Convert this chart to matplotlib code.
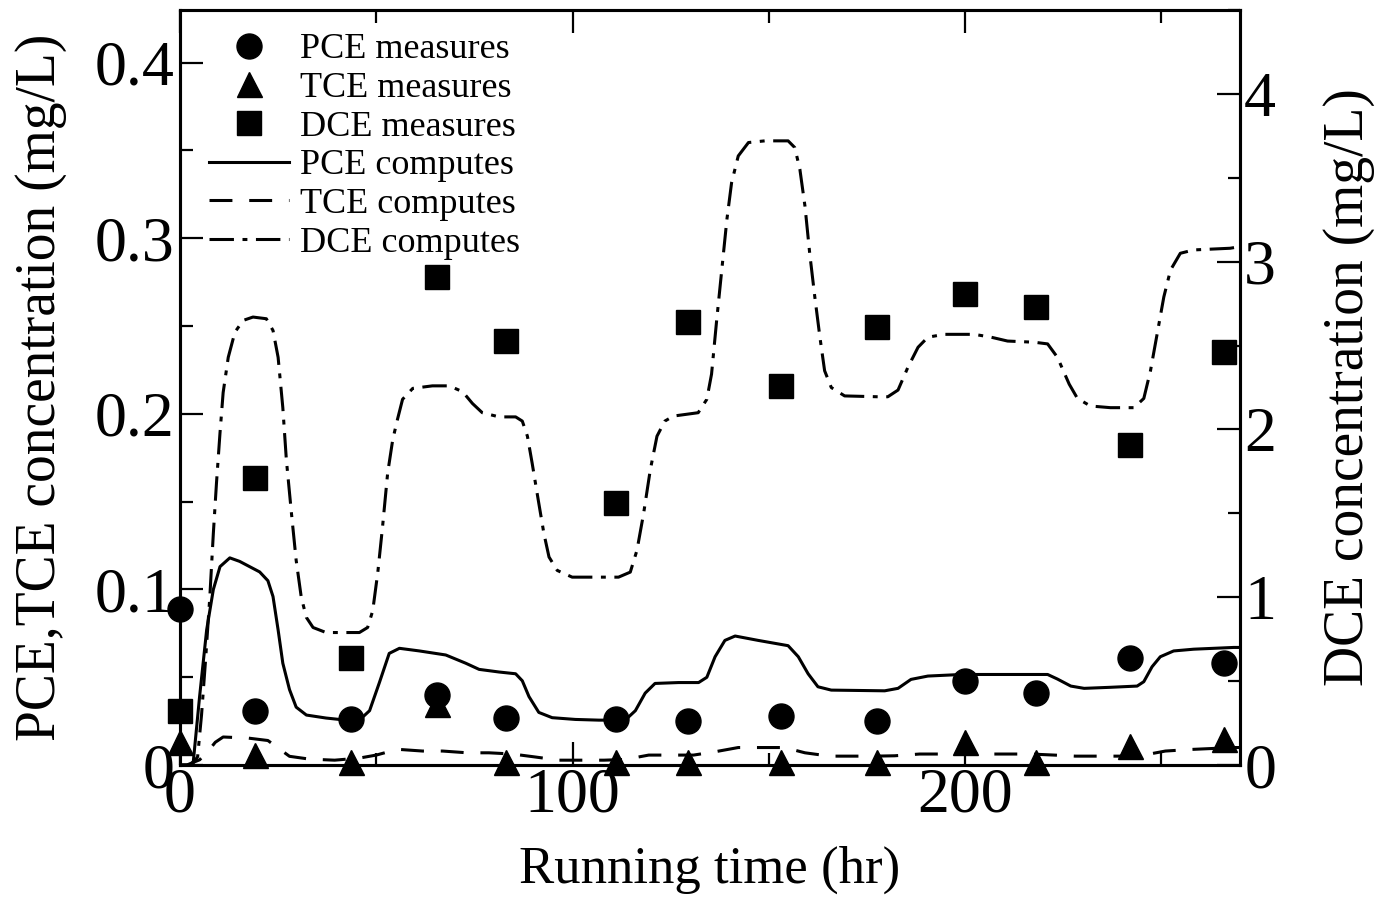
import matplotlib
matplotlib.use("Agg")
import matplotlib.pyplot as plt
from matplotlib.ticker import MultipleLocator
from matplotlib.lines import Line2D

plt.rcParams['font.family'] = ['Liberation Serif', 'DejaVu Serif']

# measured points (hr, mg/L)
t_meas = [0, 19, 43.5, 65.5, 83, 111, 129.5, 153, 177.5, 200, 218, 242, 266]
pce_meas = [0.089, 0.031, 0.026, 0.040, 0.027, 0.026, 0.025, 0.028, 0.025, 0.048, 0.041, 0.061, 0.058]
tce_meas = [0.013, 0.006, 0.002, 0.035, 0.002, 0.002, 0.002, 0.002, 0.002, 0.013, 0.002, 0.011, 0.015]
dce_meas = [0.32, 1.71, 0.64, 2.91, 2.53, 1.56, 2.64, 2.26, 2.61, 2.81, 2.73, 1.91, 2.46]

# computed curves
t_pce = [0, 2.5, 3.4, 5, 6.8, 8.5, 10.2, 12.7, 15.2, 20.3, 22.4, 23.7, 25, 26.2, 27.9, 29.6,
         32.2, 37.2, 42.3, 45.7, 48.3, 50.8, 53.3, 55.9, 61, 67.7, 72.8, 76.2, 81.3, 85.5, 87.2,
         88.9, 91.4, 94.8, 100.7, 106.7, 113.4, 116, 118.5, 121, 127, 132.1, 134.2, 136.3, 138.8,
         141.4, 147.3, 154.9, 157.5, 160, 162.5, 165.9, 179.5, 182.9, 186.2, 190.5, 199, 211.6,
         221, 223.5, 226.9, 230.3, 237, 243.8, 245.5, 247.6, 249.7, 253.1, 258.2, 268.4, 270]
pce_calc = [0, 0, 0.002, 0.039, 0.077, 0.100, 0.113, 0.118, 0.116, 0.110, 0.105, 0.096, 0.077,
            0.058, 0.043, 0.033, 0.0285, 0.0268, 0.0256, 0.0256, 0.031, 0.047, 0.0636, 0.0665,
            0.065, 0.0627, 0.058, 0.0545, 0.053, 0.052, 0.048, 0.039, 0.030, 0.027, 0.026, 0.0256,
            0.0256, 0.031, 0.041, 0.0465, 0.047, 0.047, 0.050, 0.0617, 0.071, 0.0735, 0.071, 0.068,
            0.0617, 0.052, 0.0446, 0.0427, 0.0423, 0.0437, 0.0488, 0.0507, 0.0516, 0.0516, 0.0516,
            0.049, 0.045, 0.0437, 0.0443, 0.045, 0.0475, 0.056, 0.0617, 0.065, 0.066, 0.067, 0.067]

t_tce = [0, 1.7, 5, 7.2, 9, 11, 17.3, 22.4, 27.9, 33, 39.4, 45.7, 50, 55.4, 61.8, 66.9, 73.2,
         78.7, 84.7, 90.2, 96.5, 101.6, 108, 113.4, 119.4, 124.4, 130.8, 136.3, 142.2, 147.3, 154,
         159.2, 165.5, 170.6, 176.9, 182, 188.4, 193.4, 199.8, 204.9, 211.2, 216.7, 222.7, 228.1,
         234.5, 239.6, 245.5, 251, 257.4, 268.4, 270]
tce_calc = [0, 0, 0.003, 0.008, 0.013, 0.016, 0.0154, 0.014, 0.005, 0.0034, 0.0028, 0.004,
            0.0057, 0.009, 0.008, 0.008, 0.007, 0.007, 0.0063, 0.0047, 0.0028, 0.0028, 0.0028,
            0.0032, 0.0057, 0.0057, 0.0057, 0.0076, 0.010, 0.010, 0.010, 0.007, 0.0051, 0.0051,
            0.0051, 0.0053, 0.0063, 0.0063, 0.0063, 0.0063, 0.0063, 0.0063, 0.0057, 0.0051, 0.0051,
            0.0051, 0.0057, 0.008, 0.0089, 0.010, 0.010]

t_dce = [0, 3, 4.5, 5.5, 6.5, 7.6, 8.5, 9.3, 10.2, 11, 12.3, 14, 16.1, 18.6, 22, 23.7, 25, 26.2,
         27.1, 28.4, 29.6, 30.9, 32.2, 33.9, 37.2, 45.7, 47.8, 49.1, 50.4, 51.6, 52.9, 54.2, 55.4,
         56.7, 59.3, 64.3, 68.6, 72, 74.5, 77, 81.3, 85.5, 87.2, 88.5, 89.7, 91.4, 92.7, 94, 96.1,
         99.9, 111.7, 114.7, 116.4, 118.1, 119.8, 121.5, 123.5, 125.7, 132, 134.2, 135.4, 136.7,
         138, 139.3, 140.5, 142.2, 144.8, 149, 154.9, 156.6, 157.9, 159.2, 160.4, 161.7, 163,
         164.2, 165.9, 169.3, 177.8, 180.3, 182.9, 185.4, 188, 190.5, 194.7, 202.3, 206.6, 210.8,
         217.6, 221, 223.5, 226.5, 228.6, 231.9, 237, 243, 245.5, 247.2, 248.9, 250.6, 252.3,
         254.8, 258.2, 267.5, 270]
dce_calc = [0, 0, 0.05, 0.3, 0.62, 1.0, 1.38, 1.68, 1.98, 2.22, 2.43, 2.58, 2.65, 2.67, 2.66,
            2.59, 2.43, 2.13, 1.82, 1.50, 1.22, 1.00, 0.88, 0.82, 0.79, 0.79, 0.82, 0.92, 1.15,
            1.42, 1.74, 1.94, 2.06, 2.18, 2.245, 2.26, 2.26, 2.225, 2.155, 2.10, 2.075, 2.075,
            2.05, 1.96, 1.80, 1.56, 1.38, 1.24, 1.16, 1.12, 1.12, 1.15, 1.28, 1.50, 1.76, 1.96,
            2.05, 2.08, 2.10, 2.18, 2.33, 2.65, 2.95, 3.25, 3.47, 3.63, 3.71, 3.72, 3.72, 3.68,
            3.55, 3.33, 3.05, 2.79, 2.55, 2.35, 2.25, 2.20, 2.195, 2.195, 2.235, 2.37, 2.49, 2.55,
            2.567, 2.567, 2.55, 2.527, 2.52, 2.51, 2.43, 2.27, 2.185, 2.14, 2.13, 2.13, 2.185,
            2.35, 2.57, 2.79, 2.95, 3.05, 3.07, 3.08, 3.09]

fig = plt.figure(figsize=(13.79, 8.98), dpi=100)
ax = fig.add_axes([0.1305, 0.148, 0.7687, 0.8409])
ax2 = ax.twinx()

lw = 2.2
tce_dash = (7.5, 5.5)
dce_dash = (8, 2.8, 1.6, 2.8)
ax.plot(t_pce, pce_calc, color='black', lw=lw, ls='-')
ax.plot(t_tce, tce_calc, color='black', lw=lw, dashes=tce_dash)
ax2.plot(t_dce, dce_calc, color='black', lw=lw, dashes=dce_dash)
ax.plot(t_meas, pce_meas, 'o', color='black', ms=18, clip_on=False)
ax.plot(t_meas, tce_meas, '^', color='black', ms=18, clip_on=False)
ax2.plot(t_meas, dce_meas, 's', color='black', ms=17, clip_on=False)

ax.set_xlim(0, 270)
ax.set_ylim(0, 0.43)
ax2.set_ylim(0, 4.5)

ax.xaxis.set_major_locator(MultipleLocator(100))
ax.xaxis.set_minor_locator(MultipleLocator(50))
ax.yaxis.set_major_locator(MultipleLocator(0.1))
ax.yaxis.set_minor_locator(MultipleLocator(0.05))
ax2.yaxis.set_major_locator(MultipleLocator(1))
ax2.yaxis.set_minor_locator(MultipleLocator(0.5))

ax.yaxis.set_major_formatter(lambda v, p: '0' if v == 0 else f'{v:.1f}')

for a in (ax, ax2):
    for s in a.spines.values():
        s.set_linewidth(2.2)
ax.tick_params(which='both', direction='in', width=1.6, labelsize=46, top=True, right=False)
ax.tick_params(which='major', length=16.5)
ax.tick_params(which='minor', length=9)
ax.tick_params(axis='x', pad=2)
ax.tick_params(axis='y', pad=4)
ax2.tick_params(which='both', direction='in', width=1.6, labelsize=46, pad=3)
ax2.tick_params(which='major', length=16.5)
ax2.tick_params(which='minor', length=9)

ax.set_xlabel('Running time (hr)', fontsize=38, labelpad=14)
ax.set_ylabel('PCE,TCE concentration (mg/L)', fontsize=40, labelpad=20)
ax2.set_ylabel('DCE concentration (mg/L)', fontsize=40, rotation=90, labelpad=34)

handles = [
    Line2D([], [], ls='none', marker='o', color='black', ms=18),
    Line2D([], [], ls='none', marker='^', color='black', ms=18),
    Line2D([], [], ls='none', marker='s', color='black', ms=17),
    Line2D([], [], color='black', lw=lw, ls='-'),
    Line2D([], [], color='black', lw=lw, dashes=tce_dash),
    Line2D([], [], color='black', lw=lw, dashes=dce_dash),
]
labels = ['PCE measures', 'TCE measures', 'DCE measures',
          'PCE computes', 'TCE computes', 'DCE computes']
ax2.legend(handles, labels, loc='upper left', bbox_to_anchor=(0.004, 1.003), frameon=False,
           fontsize=26, handlelength=2.2, handletextpad=0.3, labelspacing=0.15, borderpad=0.2)

fig.savefig('out.png', dpi=100)
